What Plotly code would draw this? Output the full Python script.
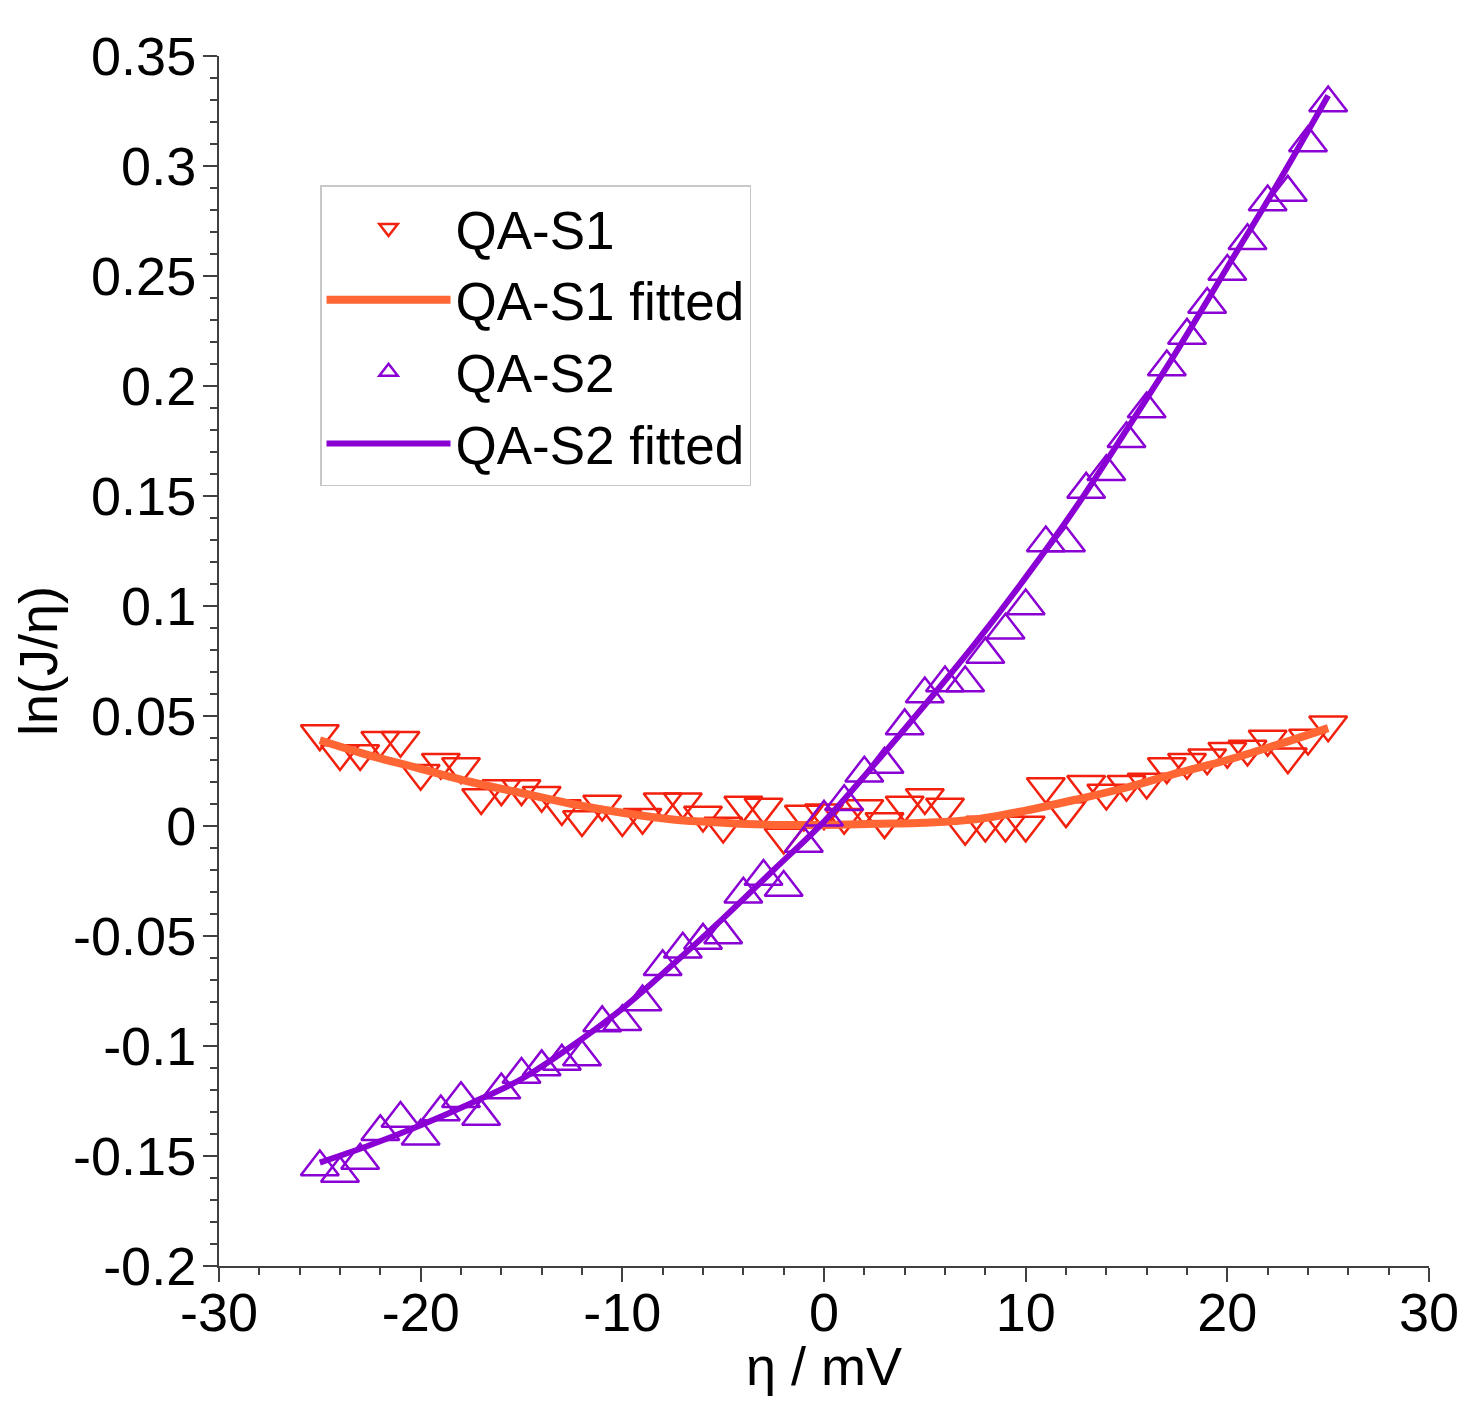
# ln(J/eta) against overpotential for QA-S1 and QA-S2, with fitted curves
import plotly.graph_objects as go

FONT = "Liberation Sans, Arial, sans-serif"

# overpotential, mV
eta = [-25, -24, -23, -22, -21, -20, -19, -18, -17, -16, -15, -14, -13, -12, -11, -10,
       -9, -8, -7, -6, -5, -4, -3, -2, -1, 0, 1, 2, 3, 4, 5, 6, 7, 8, 9, 10,
       11, 12, 13, 14, 15, 16, 17, 18, 19, 20, 21, 22, 23, 24, 25]

qa_s1 = [0.042, 0.033, 0.033, 0.039, 0.039, 0.024, 0.029, 0.027, 0.013, 0.017,
         0.017, 0.014, 0.008, 0.003, 0.010, 0.003, 0.004, 0.011, 0.011, 0.005,
         0.000, 0.0095, 0.0086, -0.005, 0.0055, 0.006, 0.004, 0.008, 0.002, 0.0095,
         0.013, 0.0086, -0.001, 0.0005, 0.0005, 0.0005, 0.018, 0.007, 0.019, 0.015,
         0.019, 0.020, 0.027, 0.029, 0.031, 0.034, 0.035, 0.0395, 0.0315, 0.040,
         0.046]

qa_s2 = [-0.155, -0.158, -0.152, -0.139, -0.133, -0.141, -0.130, -0.124, -0.132, -0.120,
         -0.113, -0.1095, -0.107, -0.105, -0.0895, -0.089, -0.080, -0.064, -0.056, -0.052,
         -0.0495, -0.031, -0.023, -0.028, -0.008, 0.004, 0.011, 0.024, 0.028, 0.0455,
         0.060, 0.065, 0.065, 0.078, 0.089, 0.100, 0.1286, 0.1286, 0.153, 0.161,
         0.176, 0.1895, 0.2086, 0.223, 0.237, 0.252, 0.266, 0.2836, 0.288, 0.3105,
         0.3286]

# fitted curves, read every 2.5 mV
eta_fit = [-25, -22.5, -20, -17.5, -15, -12.5, -10, -7.5, -5, -2.5, 0,
           2.5, 5, 7.5, 10, 12.5, 15, 17.5, 20, 22.5, 25]
qa_s1_fit = [0.039, 0.032, 0.026, 0.020, 0.015, 0.010, 0.006, 0.003, 0.0015, 0.0005, 0.0005,
             0.001, 0.0015, 0.003, 0.007, 0.012, 0.0175, 0.024, 0.030, 0.037, 0.0445]
qa_s2_fit = [-0.153, -0.145, -0.136, -0.126, -0.115, -0.100, -0.083, -0.063, -0.042, -0.020, 0.002,
             0.028, 0.055, 0.083, 0.113, 0.145, 0.180, 0.216, 0.254, 0.292, 0.332]

x_ticks = [-30, -20, -10, 0, 10, 20, 30]
x_tick_labels = ["-30", "-20", "-10", "0", "10", "20", "30"]
y_ticks = [-0.2, -0.15, -0.1, -0.05, 0, 0.05, 0.1, 0.15, 0.2, 0.25, 0.3, 0.35]
y_tick_labels = ["-0.2", "-0.15", "-0.1", "-0.05", "0", "0.05", "0.1", "0.15",
                 "0.2", "0.25", "0.3", "0.35"]

RED = "#F2200C"
ORANGE = "#FF6633"
PURPLE = "#8A00D4"

fig = go.Figure()

fig.add_trace(go.Scatter(
    x=eta, y=qa_s1, mode="markers", name="QA-S1",
    marker=dict(symbol="triangle-down-open", size=33, color=RED, line=dict(width=2.5, color=RED)),
))
fig.add_trace(go.Scatter(
    x=eta_fit, y=qa_s1_fit, mode="lines", name="QA-S1 fitted",
    line=dict(color=ORANGE, width=8, shape="spline"),
))
fig.add_trace(go.Scatter(
    x=eta, y=qa_s2, mode="markers", name="QA-S2",
    marker=dict(symbol="triangle-up-open", size=33, color=PURPLE, line=dict(width=2.5, color=PURPLE)),
))
fig.add_trace(go.Scatter(
    x=eta_fit, y=qa_s2_fit, mode="lines", name="QA-S2 fitted",
    line=dict(color=PURPLE, width=6, shape="spline"),
))

axis_common = dict(
    showgrid=False, zeroline=False, showline=True, linecolor="#404040", linewidth=2,
    ticks="outside", ticklen=14, tickwidth=2, tickcolor="#404040",
    tickfont=dict(family=FONT, size=54, color="black"),
    tickmode="array", automargin=False, ticklabeloverflow="allow",
)

fig.update_xaxes(
    **axis_common, range=[-30, 30], tickvals=x_ticks, ticktext=x_tick_labels,
    ticklabelstandoff=-16,
    minor=dict(dtick=2, tick0=0, ticks="outside", ticklen=7, tickwidth=1.5, tickcolor="#404040"),
    title=dict(text="η / mV", font=dict(family=FONT, size=54, color="black"), standoff=7),
)
fig.update_yaxes(
    **axis_common, range=[-0.2, 0.35], tickvals=y_ticks, ticktext=y_tick_labels,
    ticklabelstandoff=-4,
    minor=dict(dtick=0.01, tick0=0, ticks="outside", ticklen=7, tickwidth=1.5, tickcolor="#404040"),
    title=dict(text="ln(J/η)", font=dict(family=FONT, size=54, color="black"), standoff=10),
)

# the page puts the figure 8 px in from the top-left corner
fig.update_layout(
    width=1451, height=1388,
    margin=dict(l=211, r=30, t=48, b=130),
    plot_bgcolor="white", paper_bgcolor="white",
    legend=dict(
        x=0.0835, y=0.893, xanchor="left", yanchor="top",
        bgcolor="white", bordercolor="#c8c8c8", borderwidth=1.5,
        font=dict(family=FONT, size=53, color="black"),
        itemwidth=124, tracegroupgap=0,
    ),
)

fig.write_html("out.html")
